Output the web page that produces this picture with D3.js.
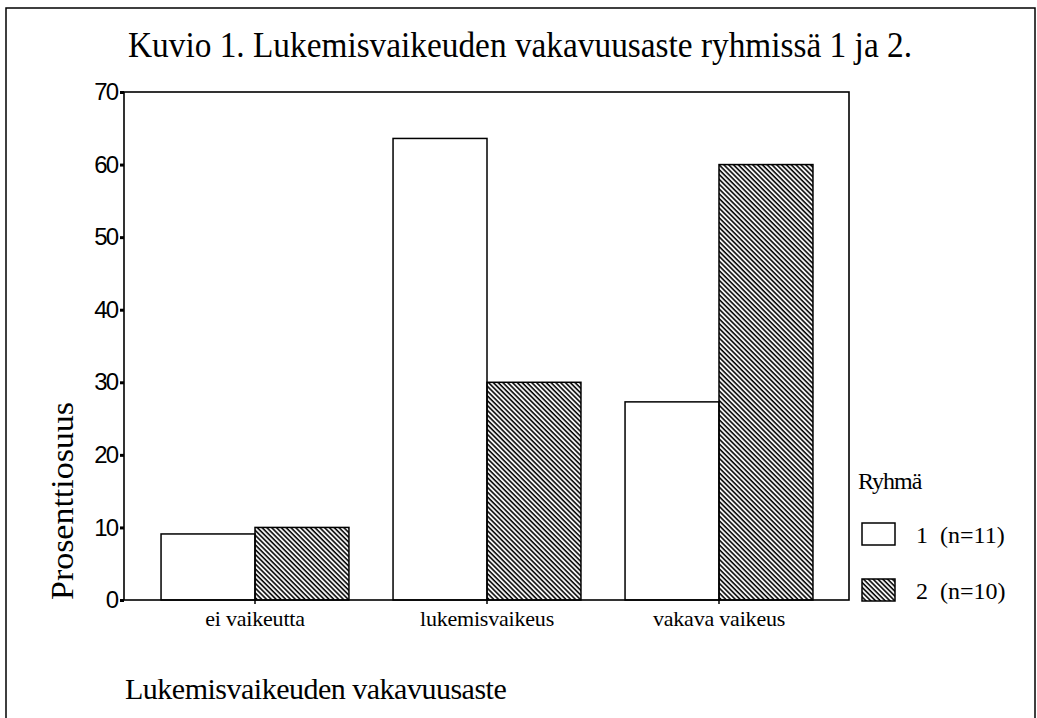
<!DOCTYPE html>
<html lang="fi">
<head>
  <meta charset="UTF-8" />
  <title>Kuvio 1</title>
  <script src="https://d3js.org/d3.v7.min.js"></script>
  <style>
    body { margin: 0; background: #fff; }
    svg { display: block; }
    .serif { font-family: 'Liberation Serif', 'Times New Roman', serif; fill: #000; }
    .sans { font-family: 'Liberation Sans', Arial, sans-serif; }
  </style>
</head>
<body>
  <div id="chart"></div>
  <script>
    const categories = ["ei vaikeutta", "lukemisvaikeus", "vakava vaikeus"];
    const groups = ["1", "2"];
    const groupLabels = ["1  (n=11)", "2  (n=10)"];
    const group1 = [9.1, 63.6, 27.3];
    const group2 = [10, 30, 60];
    const yTicks = [0, 10, 20, 30, 40, 50, 60, 70];

    const width = 1037, height = 718;
    const plot = { left: 124, right: 849, top: 92, bottom: 600 };

    const svg = d3.select("#chart").append("svg")
      .attr("width", width).attr("height", height);

    // hatch pattern for group 2
    svg.append("defs").append("pattern")
      .attr("id", "hatch")
      .attr("patternUnits", "userSpaceOnUse")
      .attr("width", 3.4).attr("height", 10)
      .attr("patternTransform", "rotate(-45)")
      .append("line")
      .attr("x1", 1).attr("y1", 0).attr("x2", 1).attr("y2", 10)
      .attr("stroke", "#000").attr("stroke-width", 1.6);

    // outer frame
    svg.append("rect")
      .attr("x", 6).attr("y", 8).attr("width", 1029).attr("height", 730)
      .attr("fill", "none").attr("stroke", "#000").attr("stroke-width", 1.5);

    svg.append("text").attr("class", "serif")
      .attr("x", 128).attr("y", 57)
      .attr("font-size", 36)
      .attr("textLength", 784).attr("lengthAdjust", "spacingAndGlyphs")
      .text("Kuvio 1. Lukemisvaikeuden vakavuusaste ryhmissä 1 ja 2.");

    const y = d3.scaleLinear().domain([0, 70]).range([plot.bottom, plot.top]);
    const x = d3.scaleBand().domain(categories).range([139, 835])
      .paddingInner(0.19).paddingOuter(0.095);
    const xg = d3.scaleBand().domain(groups).range([0, x.bandwidth()]);

    const rows = categories.map((c, i) => ({ cat: c, values: [group1[i], group2[i]] }));

    const g = svg.append("g");
    g.selectAll("g.cat").data(rows).enter().append("g")
      .attr("transform", d => `translate(${x(d.cat)},0)`)
      .selectAll("rect").data(d => d.values.map((v, i) => ({ g: groups[i], v })))
      .enter().append("rect")
      .attr("x", d => xg(d.g))
      .attr("width", xg.bandwidth())
      .attr("y", d => y(d.v))
      .attr("height", d => y(0) - y(d.v))
      .attr("fill", d => d.g === "1" ? "#fff" : "url(#hatch)")
      .attr("stroke", "#000").attr("stroke-width", 1.5);

    // plot box
    svg.append("rect")
      .attr("x", plot.left).attr("y", plot.top)
      .attr("width", plot.right - plot.left).attr("height", plot.bottom - plot.top)
      .attr("fill", "none").attr("stroke", "#000").attr("stroke-width", 1.6);

    // y axis
    const yAxis = svg.append("g")
      .attr("transform", `translate(${plot.left},0)`)
      .call(d3.axisLeft(y).tickValues(yTicks).tickSize(4).tickPadding(3));
    yAxis.select(".domain").remove();
    yAxis.selectAll(".tick line").attr("stroke-width", 3);
    yAxis.selectAll(".tick text")
      .attr("class", "sans").attr("font-size", 24)
      .attr("letter-spacing", -2).attr("fill", "#000");

    // x axis
    const xAxis = svg.append("g")
      .attr("transform", `translate(0,${plot.bottom})`)
      .call(d3.axisBottom(x).tickSize(4).tickPadding(6));
    xAxis.select(".domain").remove();
    xAxis.selectAll(".tick line").attr("stroke-width", 1.5);
    xAxis.selectAll(".tick text")
      .attr("class", "serif").attr("font-size", 22)
      .attr("letter-spacing", -0.2);

    svg.append("text").attr("class", "serif")
      .attr("transform", "translate(73,501) rotate(-90)")
      .attr("text-anchor", "middle")
      .attr("font-size", 31)
      .attr("textLength", 198).attr("lengthAdjust", "spacingAndGlyphs")
      .text("Prosenttiosuus");

    svg.append("text").attr("class", "serif")
      .attr("x", 125).attr("y", 699)
      .attr("font-size", 30)
      .attr("letter-spacing", -0.5)
      .text("Lukemisvaikeuden vakavuusaste");

    // legend
    const legend = svg.append("g");
    legend.append("text").attr("class", "serif")
      .attr("x", 858).attr("y", 489).attr("font-size", 24)
      .attr("letter-spacing", -1)
      .text("Ryhmä");
    const item = legend.selectAll("g.item").data(groups).enter().append("g")
      .attr("transform", (d, i) => `translate(862,${523 + i * 56})`);
    item.append("rect")
      .attr("width", 33).attr("height", 22)
      .attr("fill", d => d === "1" ? "#fff" : "url(#hatch)")
      .attr("stroke", "#000").attr("stroke-width", 1.5);
    item.append("text").attr("class", "serif")
      .attr("x", 54).attr("y", 20).attr("font-size", 24)
      .attr("xml:space", "preserve")
      .text((d, i) => groupLabels[i]);
  </script>
</body>
</html>
